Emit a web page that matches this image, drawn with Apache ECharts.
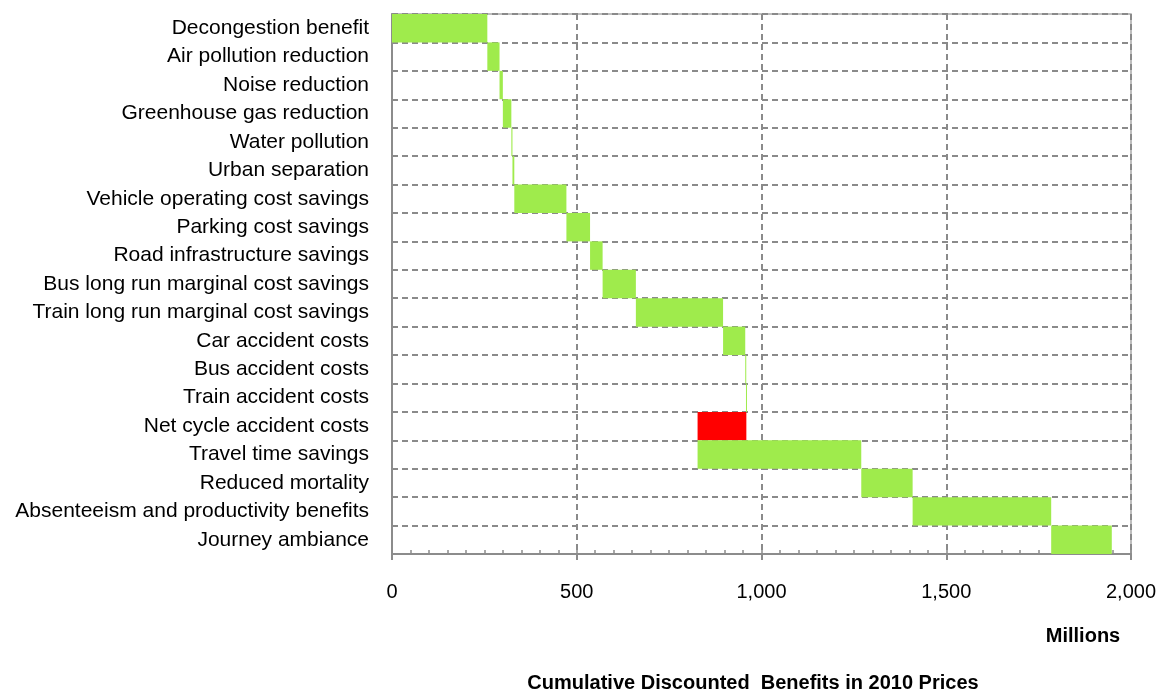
<!DOCTYPE html>
<html>
<head>
<meta charset="utf-8">
<script src="https://cdn.jsdelivr.net/npm/echarts@6/dist/echarts.min.js"></script>
<style>html,body{margin:0;padding:0;background:#fff}#c{width:1164px;height:691px}</style>
</head>
<body>
<div id="c"></div>
<script>
const categories = [
  "Decongestion benefit",
  "Air pollution reduction",
  "Noise reduction",
  "Greenhouse gas reduction",
  "Water pollution",
  "Urban separation",
  "Vehicle operating cost savings",
  "Parking cost savings",
  "Road infrastructure savings",
  "Bus long run marginal cost savings",
  "Train long run marginal cost savings",
  "Car accident costs",
  "Bus accident costs",
  "Train accident costs",
  "Net cycle accident costs",
  "Travel time savings",
  "Reduced mortality",
  "Absenteeism and productivity benefits",
  "Journey ambiance"
];
// Increment of each item (millions)
const values = [258, 33, 9, 23, 3, 5, 141, 64, 34, 90, 236, 60, 2, 1, -132, 443, 139, 375, 164];
const xTicks = [0, 500, 1000, 1500, 2000];

const GREEN = '#9feb4c';
const RED = '#ff0000';

// waterfall: invisible base + visible increment
const base = [];
const shown = [];
let cum = 0;
values.forEach(v => {
  const next = cum + v;
  base.push(Math.min(cum, next));
  shown.push({ value: Math.abs(v), itemStyle: { color: v < 0 ? RED : GREEN } });
  cum = next;
});

const chart = echarts.init(document.getElementById('c'), null, { renderer: 'canvas' });
const fmt = v => v.toLocaleString('en-US');
chart.setOption({
  animation: false,
  grid: { left: 392, right: 33, top: 14, bottom: 137, containLabel: false,
          show: true, borderColor: '#a8a8a8', borderWidth: 1.5 },
  xAxis: [{
    type: 'value', min: xTicks[0], max: xTicks[xTicks.length - 1], interval: 500,
    position: 'bottom',
    axisLine: { show: true, lineStyle: { color: '#8c8c8c', width: 2 } },
    axisTick: { show: true, length: 6, lineStyle: { color: '#8c8c8c', width: 2 } },
    axisLabel: { color: '#000', fontSize: 20, fontFamily: 'Liberation Sans, Arial', margin: 28,
                 formatter: fmt },
    splitLine: { show: true, lineStyle: { color: '#8a8a8a', type: [6, 4], width: 2 } }
  }, {
    type: 'value', min: 0, max: 2000, interval: 50, position: 'bottom', offset: 0,
    axisLine: { show: false },
    axisTick: { show: true, inside: true, length: 4, lineStyle: { color: '#8c8c8c', width: 1.5 } },
    axisLabel: { show: false },
    splitLine: { show: false }
  }],
  yAxis: {
    type: 'category', data: categories, inverse: true,
    axisLine: { show: true, lineStyle: { color: '#8c8c8c', width: 2 } },
    axisTick: { show: false },
    axisLabel: { color: '#000', fontSize: 21, fontFamily: 'Liberation Sans, Arial', margin: 23,
                 padding: [5, 0, 0, 0] },
    splitLine: { show: true, lineStyle: { color: '#8a8a8a', type: [6, 4], width: 2 } }
  },
  series: [{
    type: 'bar', stack: 'w', data: base, barWidth: '100%', silent: true,
    itemStyle: { color: 'transparent' }
  }, {
    type: 'bar', stack: 'w', data: shown, barWidth: '100%', barMinHeight: 1
  }],
  graphic: [{
    type: 'text', x: 1083, y: 636,
    style: { text: 'Millions', font: 'bold 20px "Liberation Sans", Arial', fill: '#000',
             textAlign: 'center', textVerticalAlign: 'middle' }
  }, {
    type: 'text', x: 753, y: 683,
    style: { text: 'Cumulative Discounted  Benefits in 2010 Prices', font: 'bold 20px "Liberation Sans", Arial', fill: '#000',
             textAlign: 'center', textVerticalAlign: 'middle' }
  }]
});
</script>
</body>
</html>
